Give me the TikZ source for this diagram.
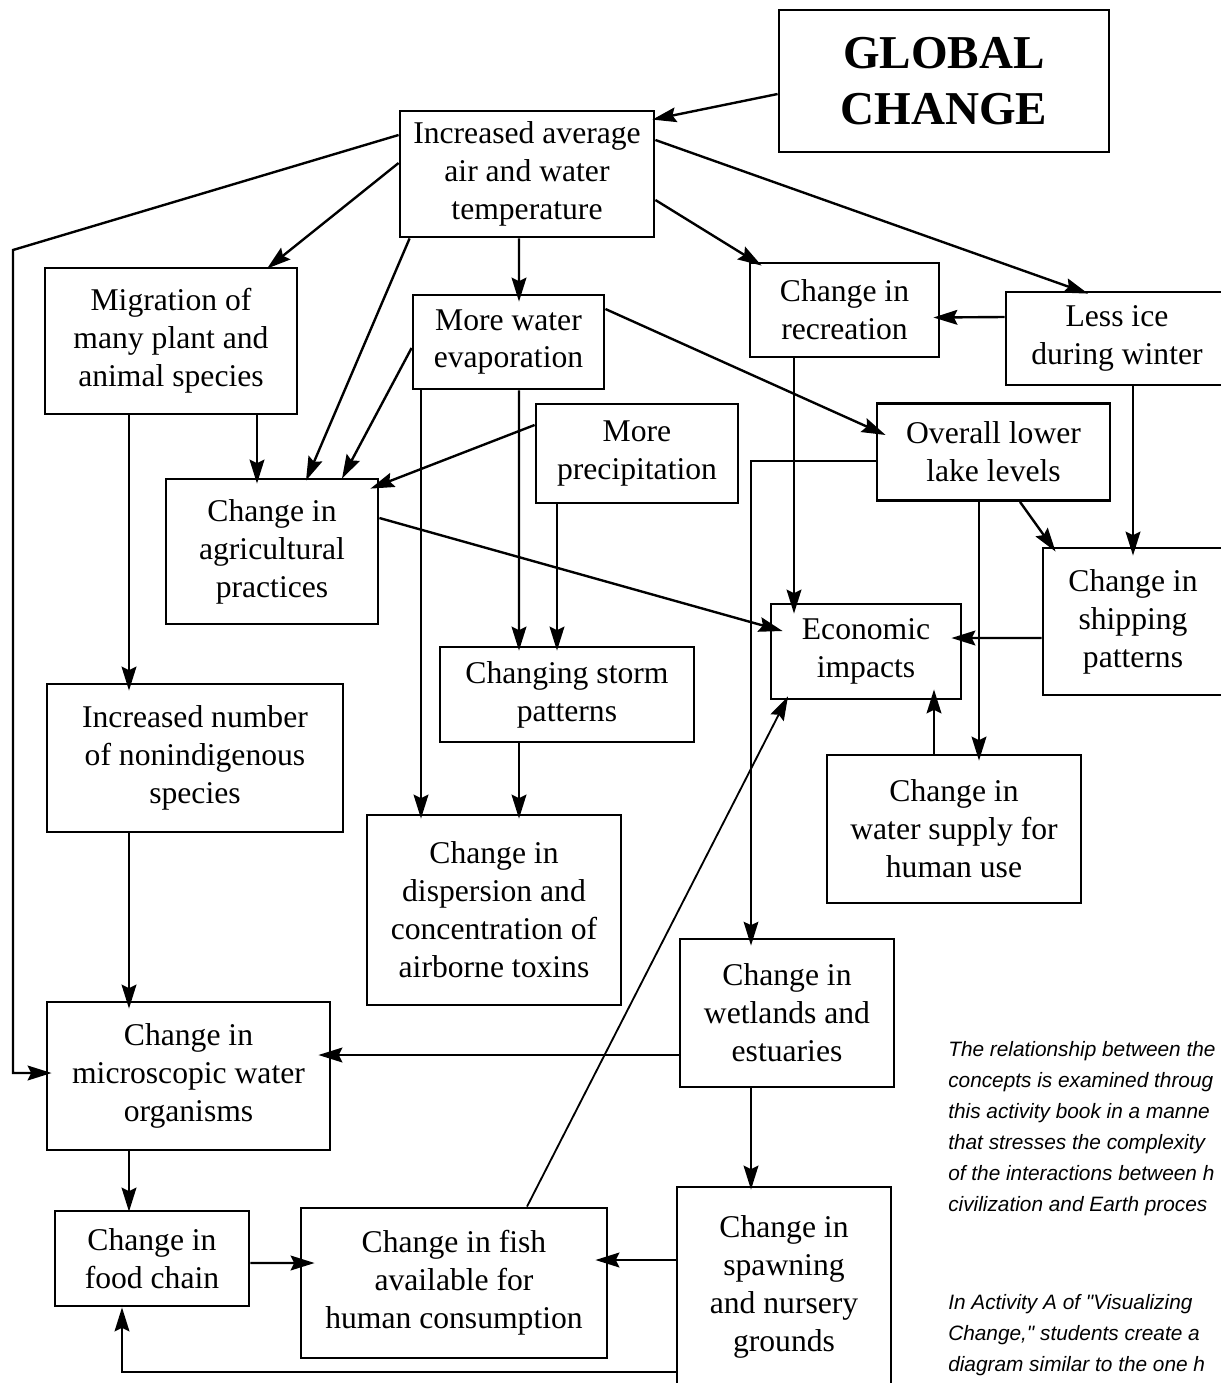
\documentclass[tikz,border=0pt]{standalone}
\usepackage{fontspec}
\setmainfont{Liberation Serif}
\newfontfamily\notafont{Liberation Sans}
\usepackage{tikz}
\usetikzlibrary{arrows.meta}

\tikzset{
    caja/.style={draw, line width=2pt, align=center, inner sep=0pt,
        font=\fontsize{22.5}{27}\selectfont},
    tam/.style 2 args={minimum width=#1*0.025cm, minimum height=#2*0.025cm},
    flecha/.style={line width=1.7pt, -{Stealth[length=17pt, width=10.5pt, inset=2.5pt]}},
    nota/.style={align=left, inner sep=0pt, font=\notafont\itshape\fontsize{14.8}{22}\selectfont}
}

\begin{document}
\begin{tikzpicture}[x=0.025cm, y=-0.025cm]

% Marco de la figura (recortado como el original)
\useasboundingbox (0,0) rectangle (1221,1383);
\clip (0,0) rectangle (1221,1383);

% Cajas - fila superior
\node[caja, tam={330}{142}, font=\bfseries\fontsize{33.5}{40}\selectfont] (global) at (944,81) {GLOBAL\\CHANGE};
\node[caja, tam={254}{126}] (incr) at (527,174) {Increased average\\air and water\\temperature};
\node[caja, tam={252}{146}] (migr) at (171,341) {Migration of\\many plant and\\animal species};
\node[caja, tam={191}{94}] (evap) at (508.5,342) {More water\\evaporation};
\node[caja, tam={189}{94}] (rec) at (844.5,310) {Change in\\recreation};
\node[caja, tam={222}{93}] (ice) at (1117,338.5) {Less ice\\during winter};
\node[caja, tam={202}{99}] (precip) at (637,453.5) {More\\precipitation};
\node[caja, tam={233}{97}] (lake) at (993.5,452) {Overall lower\\lake levels};

% Cajas - zona media
\node[caja, tam={212}{145}] (agri) at (272,551.5) {Change in\\agricultural\\practices};
\node[caja, tam={180}{147}] (ship) at (1133,621.5) {Change in\\shipping\\patterns};
\node[caja, tam={190}{95}] (econ) at (866,651.5) {Economic\\impacts};
\node[caja, tam={254}{95}] (storm) at (567,694.5) {Changing storm\\patterns};
\node[caja, tam={296}{148}] (nonind) at (195,758) {Increased number\\of nonindigenous\\species};
\node[caja, tam={254}{148}] (supply) at (954,829) {Change in\\water supply for\\human use};
\node[caja, tam={254}{190}] (disp) at (494,910) {Change in\\dispersion and\\concentration of\\airborne toxins};

% Cajas - zona inferior
\node[caja, tam={214}{148}] (wet) at (787,1013) {Change in\\wetlands and\\estuaries};
\node[caja, tam={283}{148}] (micro) at (188.5,1076) {Change in\\microscopic water\\organisms};
\node[caja, tam={194}{95}] (food) at (152,1258.5) {Change in\\food chain};
\node[caja, tam={306}{150}] (fish) at (454,1283) {Change in fish\\available for\\human consumption};
\node[caja, tam={214}{200}] (spawn) at (784,1287) {Change in\\spawning\\and nursery\\grounds};

% Texto al margen (base = última línea)
\node[nota, anchor=base west] (nota1) at (948,1211) {The relationship between the\\concepts is examined throug\\this activity book in a manne\\that stresses the complexity\\of the interactions between h\\civilization and Earth proces};
\node[nota, anchor=base west] (nota2) at (948,1371) {In Activity A of "Visualizing\\Change," students create a\\diagram similar to the one h};

% Flechas desde GLOBAL CHANGE y la temperatura
\draw[flecha] ([shift={(0,13)}]global.west) -- ([shift={(-3,10)}]incr.north east);
\coordinate (codo) at (13,250);
\draw[flecha] ([shift={(0,-39)}]incr.west) -- (codo) |- ([shift={(6,-3)}]micro.west);
\draw[flecha] ([shift={(0,-11)}]incr.west) -- ([shift={(96,2)}]migr.north);
\draw[flecha] ([shift={(11,0)}]incr.south west) -- ([shift={(34,3)}]agri.north);
\draw[flecha] ([shift={(-8,0)}]incr.south) -- ([shift={(10.5,8)}]evap.north);
\draw[flecha] ([shift={(0,26)}]incr.east) -- ([shift={(13,4)}]rec.north west);
\draw[flecha] ([shift={(0,-34)}]incr.east) -- ([shift={(-29,3)}]ice.north);

% Hielo y migración
\draw[flecha] ([shift={(0,-21.5)}]ice.west) -- ([shift={(-7,7.5)}]rec.east);
\draw[flecha] ([shift={(16,0)}]ice.south) -- ([shift={(0,9)}]ship.north);
\draw[flecha] ([shift={(86,0)}]migr.south) -- ([shift={(-15,6)}]agri.north);
\draw[flecha] ([shift={(-42,0)}]migr.south) -- ([shift={(-66,8)}]nonind.north);

% Evaporación y precipitación
\draw[flecha] ([shift={(0,6)}]evap.west) -- ([shift={(70,1)}]agri.north);
\draw[flecha] ([shift={(0,-33)}]evap.east) -- ([shift={(10,-17)}]lake.west);
\draw[flecha] ([shift={(10.5,0)}]evap.south) -- ([shift={(-48,5)}]storm.north);
\draw[flecha] ([shift={(-87.5,0)}]evap.south) -- ([shift={(-73,5)}]disp.north);
\draw[flecha] ([shift={(0,-28.5)}]precip.west) -- ([shift={(-9,11)}]agri.north east);
\draw[flecha] ([shift={(-80,0)}]precip.south) -- ([shift={(-10,5)}]storm.north);

% Nivel de los lagos e impactos económicos
\draw[flecha] ([shift={(-50.5,0)}]rec.south) -- ([shift={(-72,11)}]econ.north);
\draw[flecha, line width=1.3pt] ([shift={(0,9)}]lake.west) -| ([shift={(-36,8)}]wet.north);
\draw[flecha] ([shift={(26.5,0)}]lake.south) -- ([shift={(14,5)}]ship.north west);
\draw[flecha] ([shift={(-14.5,0)}]lake.south) -- ([shift={(25,7)}]supply.north);
\draw[flecha] ([shift={(0,16.5)}]ship.west) -- ([shift={(-11,-13.5)}]econ.east);
\draw[flecha] ([shift={(-20,0)}]supply.north) -- ([shift={(68,-11)}]econ.south);
\draw[flecha] ([shift={(0,-33.5)}]agri.east) -- ([shift={(13,-20.5)}]econ.west);
\draw[flecha] ([shift={(-48,0)}]storm.south) -- ([shift={(25,5)}]disp.north);

% Cadena acuática
\draw[flecha] ([shift={(-66,0)}]nonind.south) -- ([shift={(-59.5,8)}]micro.north);
\draw[flecha] ([shift={(0,42)}]wet.west) -- ([shift={(-13,-21)}]micro.east);
\draw[flecha] ([shift={(-36,0)}]wet.south) -- ([shift={(-33,4)}]spawn.north);
\draw[flecha] ([shift={(-59.5,0)}]micro.south) -- ([shift={(-23,2)}]food.north);
\draw[flecha] ([shift={(0,4.5)}]food.east) -- ([shift={(15,-20)}]fish.west);
\draw[flecha] ([shift={(0,-27)}]spawn.west) -- ([shift={(-13,-23)}]fish.east);
\draw[flecha] ([shift={(0,85)}]spawn.west) -| ([shift={(-30,0)}]food.south);
\draw[flecha, line width=1.3pt] ([shift={(73,0)}]fish.north) -- ([shift={(-78,-4)}]econ.south);

\end{tikzpicture}
\end{document}
